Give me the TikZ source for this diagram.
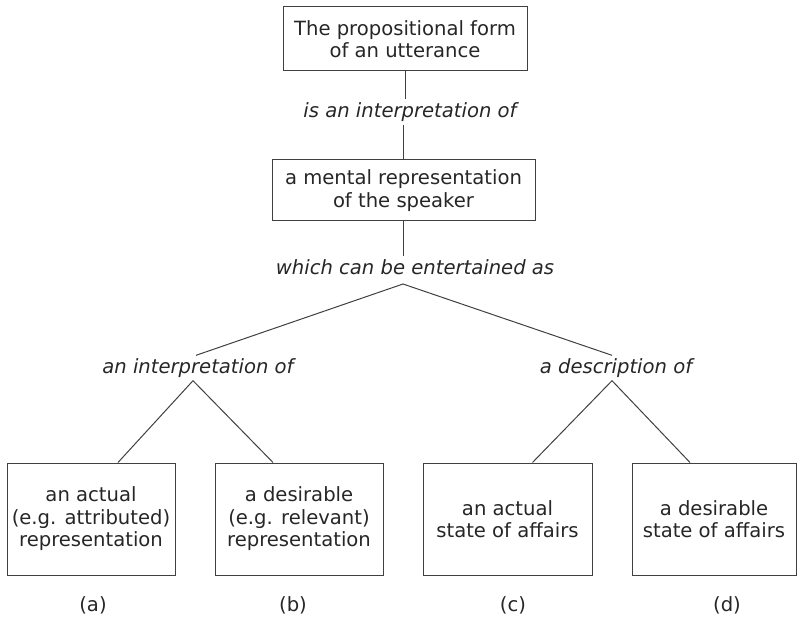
\documentclass[tikz,border=0pt]{standalone}
\usepackage{fontspec}
\setmainfont{DejaVu Sans}
\usetikzlibrary{calc}
\begin{document}
\begin{tikzpicture}[x=1pt,y=1pt,
  every node/.style={font=\fontsize{19.6}{22.5}\selectfont, text=black!85},
  box/.style={draw=black!75, line width=1pt, rectangle, align=center, inner sep=0pt},
  lbl/.style={font=\fontsize{19.6}{22.5}\selectfont\itshape, inner sep=3pt},
  conn/.style={draw=black!75, line width=1pt}]
\useasboundingbox (0,0) rectangle (797,-617);
\node[box, minimum width=244, minimum height=64] (top) at (405,-39) {The propositional form\\of an utterance};
\node[lbl] (l1) at (410,-112) {is an interpretation of};
\node[box, minimum width=263, minimum height=61] (mid) at (403.5,-190.5) {a mental representation\\of the speaker};
\node[lbl] (l2) at (415,-267) {which can be entertained as};
\coordinate (apex) at (403,-284);
\node[lbl] (l3) at (198,-368) {an interpretation of};
\node[lbl] (l4) at (616,-368) {a description of};
\node[box, minimum width=168, minimum height=112] (a) at (91,-519) {an actual\\(e.g. attributed)\\representation};
\node[box, minimum width=168, minimum height=112] (b) at (299,-519) {a desirable\\(e.g. relevant)\\representation};
\node[box, minimum width=169, minimum height=112] (c) at (507.5,-519) {an actual\\state of affairs};
\node[box, minimum width=164, minimum height=112] (d) at (714,-519) {a desirable\\state of affairs};
\node (ca) at (93,-605) {(a)};
\node (cb) at (293,-605) {(b)};
\node (cc) at (513,-605) {(c)};
\node (cd) at (727,-605) {(d)};
\draw[conn] (top.south) -- (top.south |- l1.north);
\draw[conn] (mid.north |- l1.south) -- (mid.north);
\draw[conn] (mid.south) -- (mid.south |- l2.north);
\draw[conn] ([xshift=-2pt]l3.north) -- (apex) -- ([xshift=-4pt]l4.north);
\draw[conn] ([xshift=-5pt]l3.south) -- ([xshift=27pt]a.north);
\draw[conn] ([xshift=-5pt]l3.south) -- ([xshift=-26pt]b.north);
\draw[conn] ([xshift=-4pt]l4.south) -- ([xshift=25pt]c.north);
\draw[conn] ([xshift=-4pt]l4.south) -- ([xshift=-24pt]d.north);
\end{tikzpicture}
\end{document}
